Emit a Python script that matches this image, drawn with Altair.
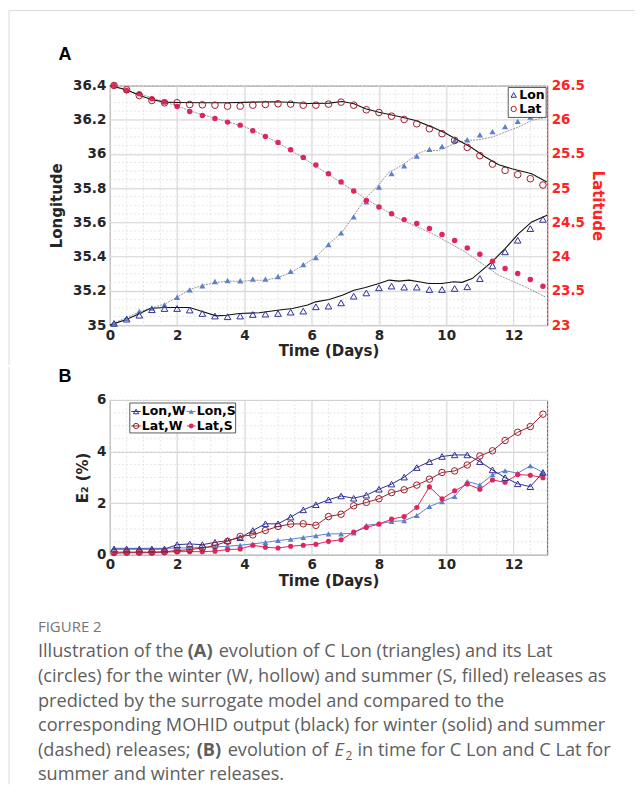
import altair as alt
import pandas as pd

# ---------------- data ----------------
t = [0.125, 0.5, 0.875, 1.25, 1.625, 2.0, 2.375, 2.75, 3.125, 3.5, 3.875, 4.25,
     4.625, 5.0, 5.375, 5.75, 6.125, 6.5, 6.875, 7.25, 7.625, 8.0, 8.375, 8.75,
     9.125, 9.5, 9.875, 10.25, 10.625, 11.0, 11.375, 11.75, 12.125, 12.5, 12.875]

lon_w = [35.01, 35.035, 35.058, 35.09, 35.097, 35.097, 35.088, 35.068, 35.053, 35.049,
         35.053, 35.062, 35.064, 35.068, 35.076, 35.082, 35.107, 35.111, 35.13, 35.169,
         35.188, 35.218, 35.228, 35.222, 35.222, 35.208, 35.208, 35.214, 35.224, 35.272,
         35.346, 35.428, 35.496, 35.564, 35.618]
lon_s = [35.01, 35.04, 35.08, 35.1, 35.118, 35.163, 35.206, 35.229, 35.255, 35.26,
         35.259, 35.269, 35.269, 35.284, 35.314, 35.353, 35.395, 35.47, 35.539, 35.632,
         35.72, 35.807, 35.885, 35.93, 35.988, 36.027, 36.044, 36.079, 36.083, 36.112,
         36.13, 36.16, 36.19, 36.215, 36.23]
lat_w = [26.5, 26.437, 26.354, 26.281, 26.248, 26.248, 26.223, 26.218, 26.213, 26.198,
         26.198, 26.213, 26.223, 26.233, 26.228, 26.213, 26.213, 26.228, 26.257, 26.213,
         26.145, 26.106, 26.052, 26.004, 25.941, 25.868, 25.796, 25.698, 25.596, 25.475,
         25.352, 25.26, 25.198, 25.139, 25.046]
lat_s = [26.5, 26.427, 26.379, 26.306, 26.257, 26.194, 26.121, 26.063, 26.019, 25.965,
         25.921, 25.839, 25.756, 25.669, 25.562, 25.45, 25.338, 25.212, 25.09, 24.959,
         24.82, 24.725, 24.628, 24.541, 24.483, 24.41, 24.323, 24.235, 24.128, 24.035,
         23.933, 23.826, 23.754, 23.666, 23.569]

mohid_lon_w_t = [0.0, 0.49, 0.89, 1.19, 1.6, 1.98, 2.37, 2.77, 3.16, 3.46, 3.85, 4.44,
                 5.04, 5.43, 5.88, 6.12, 6.52, 6.91, 7.26, 7.6, 8.0, 8.3, 8.6, 8.9, 9.19,
                 9.48, 9.88, 10.22, 10.47, 10.77, 11.01, 11.36, 11.75, 12.15, 12.54, 13.0]
mohid_lon_w = [35.0, 35.033, 35.068, 35.097, 35.103, 35.103, 35.103, 35.078, 35.054, 35.058,
               35.068, 35.072, 35.088, 35.097, 35.117, 35.136, 35.15, 35.175, 35.204, 35.22,
               35.243, 35.263, 35.257, 35.263, 35.253, 35.243, 35.243, 35.253, 35.25, 35.272,
               35.311, 35.37, 35.447, 35.535, 35.603, 35.642]
mohid_lon_s_t = [0.0, 0.45, 0.89, 1.68, 2.02, 2.37, 2.77, 3.13, 3.5, 3.88, 4.25, 4.62, 4.99,
                 5.37, 5.75, 6.12, 6.52, 6.91, 7.26, 7.6, 7.98, 8.3, 8.59, 8.89, 9.14,
                 9.38, 9.78, 10.02, 10.27, 10.57, 10.96, 11.36, 11.75, 12.15, 12.54, 13.0]
mohid_lon_s = [35.0, 35.04, 35.078, 35.127, 35.165, 35.208, 35.233, 35.247, 35.258, 35.255,
               35.262, 35.262, 35.278, 35.305, 35.35, 35.398, 35.476, 35.544, 35.642, 35.74,
               35.817, 35.894, 35.923, 35.962, 36.0, 36.02, 36.02, 36.04, 36.063, 36.079,
               36.083, 36.098, 36.128, 36.157, 36.196, 36.215]
mohid_lat_w_t = [0.0, 0.49, 0.89, 1.26, 1.64, 2.0, 2.77, 3.46, 4.25, 4.94, 5.43, 5.88,
                 6.52, 6.91, 7.26, 7.6, 8.0, 8.59, 9.09, 9.58, 9.97, 10.37, 10.76, 11.16,
                 11.56, 11.95, 12.54, 12.99]
mohid_lat_w = [26.5, 26.437, 26.354, 26.291, 26.257, 26.252, 26.248, 26.248, 26.257, 26.262,
               26.252, 26.238, 26.242, 26.267, 26.233, 26.16, 26.11, 26.048, 25.99, 25.892,
               25.805, 25.698, 25.591, 25.455, 25.343, 25.285, 25.212, 25.09]
mohid_lat_s_t = [0.0, 0.5, 1.0, 1.5, 2.0, 2.5, 3.0, 3.5, 4.0, 4.5, 5.0, 5.63, 6.62, 7.6,
                 8.59, 9.58, 10.57, 11.56, 12.35, 12.94]
mohid_lat_s = [26.5, 26.43, 26.36, 26.28, 26.2, 26.11, 26.04, 25.97, 25.9, 25.79, 25.66,
               25.479, 25.163, 24.848, 24.556, 24.337, 24.068, 23.729, 23.559, 23.413]

e2_lon_w = [0.22, 0.22, 0.22, 0.22, 0.22, 0.39, 0.42, 0.39, 0.48, 0.55, 0.66, 0.94, 1.2,
            1.2, 1.46, 1.74, 1.94, 2.13, 2.28, 2.19, 2.31, 2.54, 2.74, 3.01, 3.38, 3.61,
            3.81, 3.87, 3.87, 3.61, 3.29, 2.99, 2.75, 2.64, 3.19]
e2_lon_s = [0.25, 0.25, 0.25, 0.25, 0.25, 0.26, 0.27, 0.28, 0.3, 0.33, 0.37, 0.42, 0.48,
            0.55, 0.6, 0.67, 0.74, 0.81, 0.81, 0.84, 1.14, 1.2, 1.29, 1.32, 1.52, 1.87,
            2.06, 2.26, 2.84, 2.71, 3.1, 3.26, 3.16, 3.45, 3.19]
e2_lat_w = [0.1, 0.1, 0.1, 0.1, 0.12, 0.16, 0.2, 0.26, 0.36, 0.52, 0.71, 0.77, 0.94, 1.1,
            1.19, 1.2, 1.14, 1.48, 1.57, 1.9, 2.03, 2.17, 2.41, 2.52, 2.7, 2.93, 3.19,
            3.25, 3.48, 3.83, 4.03, 4.43, 4.75, 4.97, 5.45]
e2_lat_s = [0.05, 0.08, 0.08, 0.08, 0.1, 0.12, 0.12, 0.12, 0.14, 0.2, 0.22, 0.37, 0.29,
            0.26, 0.33, 0.37, 0.41, 0.52, 0.58, 0.88, 1.06, 1.19, 1.38, 1.48, 1.83, 2.63,
            2.17, 2.48, 2.74, 2.54, 2.9, 2.81, 3.11, 3.08, 2.99]

x_ticks = [0, 2, 4, 6, 8, 10, 12]
lon_ticks = [35, 35.2, 35.4, 35.6, 35.8, 36, 36.2, 36.4]
lat_ticks = [23, 23.5, 24, 24.5, 25, 25.5, 26, 26.5]
e2_ticks = [0, 2, 4, 6]
x_minor = [i * 0.5 for i in range(27)]
lon_minor = [round(35 + i * 0.05, 2) for i in range(29)]
e2_minor = [i * 0.5 for i in range(13)]

caption_title = "FIGURE 2"
caption_lines = [
    "(circles) for the winter (W, hollow) and summer (S, filled) releases as",
    "predicted by the surrogate model and compared to the",
    "corresponding MOHID output (black) for winter (solid) and summer",
    "summer and winter releases.",
]

# ---------------- style ----------------
NAVY = "#2e3192"
LBLUE = "#5b80cc"
DRED = "#9e1f2c"
CRIM = "#e0245e"
RED = "#ff2323"
INK = "#262626"
MINOR = "#e0e0e0"
FRAME = "#d9d9d9"
CAP = "#5e5e5e"
CAPFS = 18.2

one = pd.DataFrame({"d": [0]})


def frame(x, y):
    return pd.DataFrame({"t": x, "v": y})


def txt(s, x, y, size=12, weight="bold", color="black", font="DejaVu Sans",
        align="left", style="normal"):
    return alt.Chart(one).mark_text(
        text=s, fontSize=size, fontWeight=weight, color=color, font=font,
        align=align, baseline="middle", fontStyle=style
    ).encode(x=alt.value(x), y=alt.value(y))


def cap(s, x, y, weight="normal", style="normal", size=CAPFS):
    return txt(s, x, y, size=size, weight=weight, color=CAP, font="Open Sans", style=style)


def rule(x1, x2, y1, y2, color=FRAME, w=1):
    return alt.Chart(one).mark_rule(color=color, strokeWidth=w).encode(
        x=alt.value(x1), x2=alt.value(x2), y=alt.value(y1), y2=alt.value(y2))


def sym(x, y, shape, color, filled, size=32):
    return alt.Chart(one).mark_point(
        shape=shape, color=color, filled=filled, size=size, opacity=1, strokeWidth=1
    ).encode(x=alt.value(x), y=alt.value(y))


def box(x1, x2, y1, y2):
    return alt.Chart(one).mark_rect(fill="white", stroke="#333333", strokeWidth=0.8).encode(
        x=alt.value(x1), x2=alt.value(x2), y=alt.value(y1), y2=alt.value(y2))


def x_enc():
    return alt.X("t:Q", scale=alt.Scale(domain=[0, 13], nice=False, zero=False),
                 axis=alt.Axis(values=x_ticks, title="Time (Days)", format="~g",
                               labelFlush=False, labelPadding=3, titlePadding=2))


yLon = alt.Y("v:Q", scale=alt.Scale(domain=[35, 36.4], nice=False, zero=False),
             axis=alt.Axis(orient="left", values=lon_ticks, title="Longitude", format="~g",
                           labelPadding=4, titlePadding=8))
yLat = alt.Y("v:Q", scale=alt.Scale(domain=[23, 26.5], nice=False, zero=False),
             axis=alt.Axis(orient="right", values=lat_ticks, title="Latitude", format="~g",
                           grid=False, labelColor=RED, titleColor=RED, domain=True,
                           domainColor=RED, labelPadding=4, titlePadding=5))
xA = x_enc()

# ---------------- panel A ----------------
lon_grp = alt.layer(
    alt.Chart(pd.DataFrame({"v": lon_minor})).mark_rule(color=MINOR, strokeDash=[2, 2], strokeWidth=0.8).encode(y=yLon),
    alt.Chart(pd.DataFrame({"t": x_minor})).mark_rule(color=MINOR, strokeDash=[2, 2], strokeWidth=0.8).encode(x=xA),
    alt.Chart(frame(mohid_lon_s_t, mohid_lon_s)).mark_line(color="#8c8c8c", strokeWidth=0.9, strokeDash=[2, 1]).encode(x=xA, y=yLon),
    alt.Chart(frame(mohid_lon_w_t, mohid_lon_w)).mark_line(color="#111111", strokeWidth=1.1).encode(x=xA, y=yLon),
    alt.Chart(frame(t, lon_s)).mark_point(shape="triangle-up", filled=True, color=LBLUE, size=38, opacity=1).encode(x=xA, y=yLon),
    alt.Chart(frame(t, lon_w)).mark_point(shape="triangle-up", filled=False, color=NAVY, size=44, opacity=1, strokeWidth=1).encode(x=xA, y=yLon),
)
lat_grp = alt.layer(
    alt.Chart(frame(mohid_lat_s_t, mohid_lat_s)).mark_line(color="#8c8c8c", strokeWidth=0.9, strokeDash=[2, 1]).encode(x=xA, y=yLat),
    alt.Chart(frame(mohid_lat_w_t, mohid_lat_w)).mark_line(color="#111111", strokeWidth=1.1).encode(x=xA, y=yLat),
    alt.Chart(frame(t, lat_s)).mark_point(shape="circle", filled=True, color=CRIM, size=30, opacity=1).encode(x=xA, y=yLat),
    alt.Chart(frame(t, lat_w)).mark_point(shape="circle", filled=False, color=DRED, size=44, opacity=1, strokeWidth=1).encode(x=xA, y=yLat),
)
annA = [
    rule(-101, 526, -75, -75),
    rule(-101, -101, -75, 280),
    txt("A", -45, -31, size=18, font="Liberation Sans", align="center"),
    box(399, 437, 2, 32),
    sym(404.5, 9.5, "triangle-up", NAVY, False, 28),
    txt("Lon", 410, 9.5, size=12.5),
    sym(404.5, 23.5, "circle", DRED, False, 28),
    txt("Lat", 410, 23.5, size=12.5),
]
panelA = alt.layer(lon_grp, lat_grp, *annA).resolve_scale(y="independent").properties(width=438, height=240)

# ---------------- panel B ----------------
xB = x_enc()
yE = alt.Y("v:Q", scale=alt.Scale(domain=[0, 6], nice=False, zero=False),
           axis=alt.Axis(values=e2_ticks, title="E₂ (%)", format="~g", labelPadding=4, titlePadding=6))


def series(vals, color, shape, filled, size):
    d = frame(t, vals)
    return [
        alt.Chart(d).mark_line(color=color, strokeWidth=1).encode(x=xB, y=yE),
        alt.Chart(d).mark_point(shape=shape, filled=filled, color=color, size=size, opacity=1, strokeWidth=1).encode(x=xB, y=yE),
    ]


annB = [
    rule(-101, -101, -33, 385),
    txt("B", -45, -23, size=18, font="Liberation Sans", align="center"),
    box(20, 126, 3, 33),
    rule(21.5, 31, 11.5, 11.5, NAVY), sym(26.3, 11.5, "triangle-up", NAVY, False, 28), txt("Lon,W", 32, 11.5, size=12.5),
    rule(77, 86, 11.5, 11.5, LBLUE), sym(81.5, 11.5, "triangle-up", LBLUE, True, 26), txt("Lon,S", 87, 11.5, size=12.5),
    rule(21.5, 31, 26, 26, DRED), sym(26.3, 26, "circle", DRED, False, 28), txt("Lat,W", 32, 26, size=12.5),
    rule(77, 86, 26, 26, CRIM), sym(81.5, 26, "circle", CRIM, True, 24), txt("Lat,S", 87, 26, size=12.5),
    # caption
    txt(caption_title, -72, 227, size=15, weight="normal", color="#767676", font="Open Sans"),
    cap("Illustration of the", -72, 252),
    cap("(A)", 78, 252, weight="bold"),
    cap("evolution of C Lon (triangles) and its Lat", 109, 252),
    cap(caption_lines[0], -72, 277),
    cap(caption_lines[1], -72, 302),
    cap(caption_lines[2], -72, 327),
    cap("(dashed) releases;", -72, 352),
    cap("(B)", 87, 352, weight="bold"),
    cap("evolution of", 118, 352),
    cap("E", 225, 352, style="italic"),
    cap("2", 236, 357, size=12),
    cap("in time for C Lon and C Lat for", 248, 352),
    cap(caption_lines[3], -72, 376),
]

panelB = alt.layer(
    alt.Chart(pd.DataFrame({"v": e2_minor})).mark_rule(color=MINOR, strokeDash=[2, 2], strokeWidth=0.8).encode(y=yE),
    alt.Chart(pd.DataFrame({"t": x_minor})).mark_rule(color=MINOR, strokeDash=[2, 2], strokeWidth=0.8).encode(x=xB),
    *series(e2_lon_s, LBLUE, "triangle-up", True, 34),
    *series(e2_lat_s, CRIM, "circle", True, 26),
    *series(e2_lon_w, NAVY, "triangle-up", False, 42),
    *series(e2_lat_w, DRED, "circle", False, 42),
    *annB,
).properties(width=438, height=155)

chart = alt.vconcat(panelA, panelB, spacing=0).properties(
    padding={"left": 0, "top": 1, "right": 0, "bottom": 0}
).configure_view(stroke="#555555", strokeWidth=1).configure_axis(
    labelFont="DejaVu Sans", labelFontSize=13.5, labelFontWeight="bold", labelColor=INK,
    titleFont="DejaVu Sans", titleFontSize=15, titleFontWeight="bold", titleColor=INK,
    ticks=False, domain=False, gridColor="#d2d2d2", gridWidth=1,
)

chart.save("out.html", embed_options={"renderer": "svg", "actions": False})
